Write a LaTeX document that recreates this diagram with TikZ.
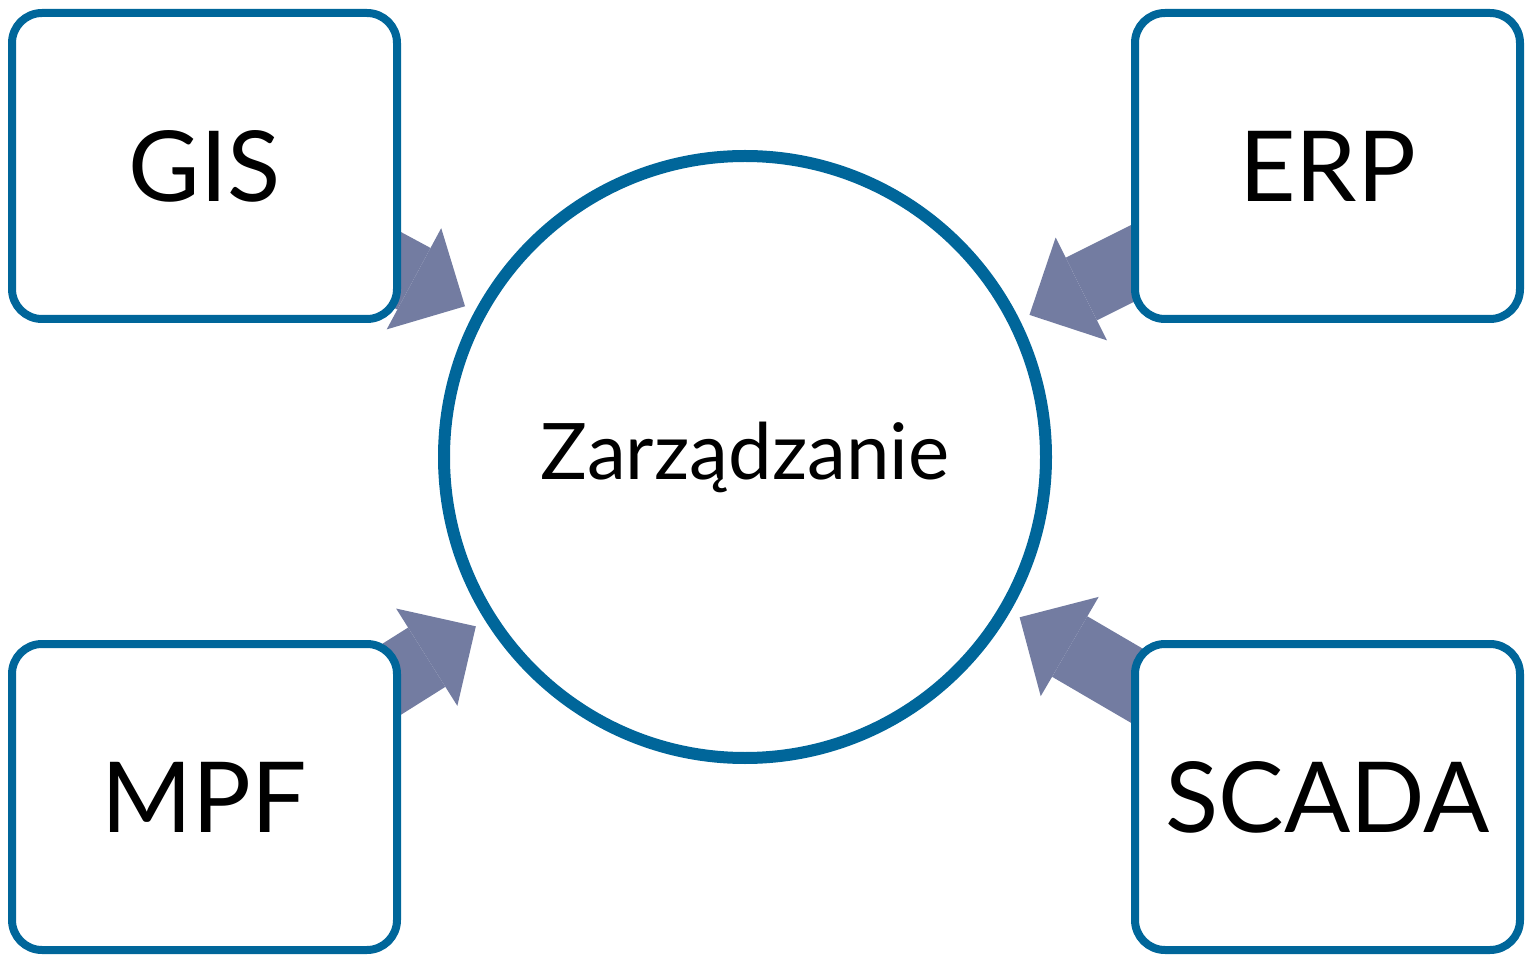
\documentclass[tikz,border=0pt]{standalone}
\usepackage{fontspec}
\setmainfont{Lato}
\usetikzlibrary{arrows.meta,backgrounds}
\definecolor{boxblue}{HTML}{00669A}
\definecolor{feedgray}{HTML}{737CA1}
\begin{document}
\begin{tikzpicture}[x=1pt,y=-1pt,
    box/.style={draw=boxblue,line width=8pt,fill=white,rounded corners=30pt,
      minimum width=385pt,minimum height=306pt,inner sep=0pt,
      font=\fontsize{98}{110}\selectfont},
    hub/.style={circle,draw=boxblue,line width=12pt,fill=white,
      minimum size=602pt,inner sep=0pt,font=\fontsize{78}{90}\selectfont},
    feed/.style={draw=feedgray,line width=70pt,shorten >=11pt,
      -{Triangle[width=115pt,length=58pt,line width=0pt]}}]
  \useasboundingbox (0,0) rectangle (1527,957);
  \draw
    (745,457) node[hub] (zarz){Zarządzanie}
    (204.5,166) node[box] (gis){GIS}
    (1327.5,166) node[box] (erp){ERP}
    (204.5,797) node[box] (mpf){MPF}
    (1327.5,797) node[box] (scada){SCADA};
  \begin{pgfonlayer}{background}
    \draw[feed] (gis.center) to (zarz);
    \draw[feed] (erp.center) to (zarz);
    \draw[feed] (mpf.center) to (zarz);
    \draw[feed] (scada.center) to (zarz);
  \end{pgfonlayer}
\end{tikzpicture}
\end{document}
